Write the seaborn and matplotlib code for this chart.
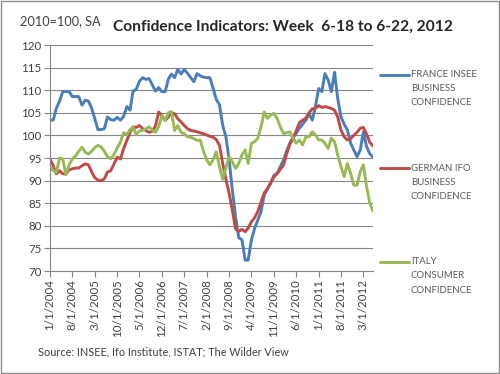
import matplotlib
matplotlib.use('Agg')
import matplotlib.pyplot as plt
import pandas as pd
import seaborn as sns

# monthly index values, 2010=100, SA (Jan 2004 .. Jun 2012)
start_month = '2004-01-01'
france = [103.4, 103.4, 106.0, 107.6, 109.7, 109.7, 109.7, 108.6, 108.6, 108.6,
          106.7, 107.8, 107.6, 106.0, 103.8, 101.3, 101.3, 101.5, 104.1, 103.5,
          103.4, 104.0, 103.4, 104.2, 106.4, 105.6, 109.8, 110.2, 112.0, 112.8,
          112.4, 112.6, 111.2, 109.8, 110.6, 109.7, 109.7, 112.5, 113.6, 112.8,
          114.6, 113.6, 114.6, 113.8, 112.8, 111.9, 113.7, 113.2, 112.9, 112.8,
          112.8, 110.5, 108.0, 106.8, 102.3, 99.7, 94.6, 88.0, 82.0, 77.4,
          76.9, 72.4, 72.4, 76.9, 79.4, 81.3, 83.1, 86.8, 88.3, 89.4,
          91.2, 91.6, 93.1, 94.6, 96.5, 98.3, 99.5, 100.5, 101.6, 102.5,
          103.4, 104.8, 103.4, 106.4, 110.4, 109.7, 113.7, 112.3, 109.7, 114.0,
          108.2, 104.1, 102.5, 101.2, 98.3, 96.8, 95.3, 96.8, 100.8, 97.5,
          96.0, 95.2]
germany = [94.8, 93.3, 91.5, 92.2, 91.5, 91.5, 92.4, 92.6, 92.8, 92.8,
           93.3, 93.7, 93.5, 91.9, 90.7, 90.1, 90.0, 90.4, 91.9, 92.2,
           93.7, 95.2, 94.8, 97.0, 98.9, 100.7, 101.9, 101.8, 102.2, 101.5,
           101.1, 100.7, 100.9, 102.2, 105.2, 104.4, 103.3, 104.1, 105.0, 104.8,
           103.7, 103.0, 102.2, 101.5, 101.1, 101.0, 100.8, 100.6, 100.4, 100.1,
           99.8, 99.6, 99.1, 97.8, 93.9, 90.3, 87.2, 83.5, 79.3, 78.8,
           79.2, 78.7, 79.5, 80.9, 81.8, 83.2, 85.2, 87.3, 88.2, 89.5,
           90.8, 91.5, 92.5, 93.5, 95.8, 98.0, 99.4, 101.0, 102.8, 103.4,
           103.8, 105.0, 105.9, 106.0, 106.6, 106.2, 106.4, 106.2, 106.0, 105.6,
           104.1, 101.2, 99.7, 99.0, 99.3, 100.0, 100.7, 101.6, 101.8, 100.3,
           98.5, 97.7]
italy = [93.0, 92.2, 91.8, 95.0, 94.8, 91.3, 93.5, 94.8, 95.5, 96.5,
         97.4, 96.3, 95.9, 96.5, 97.3, 97.8, 97.5, 96.5, 95.3, 94.8,
         95.8, 97.2, 98.5, 100.6, 100.2, 101.3, 101.8, 100.2, 101.0, 101.1,
         101.5, 101.9, 101.2, 100.7, 102.0, 104.4, 103.3, 105.0, 105.3, 101.1,
         102.2, 100.7, 100.4, 99.7, 99.6, 99.3, 98.9, 99.0, 96.5, 94.6,
         93.5, 94.6, 96.4, 93.1, 90.3, 92.8, 95.3, 94.2, 92.7, 93.8,
         95.7, 96.8, 93.8, 98.3, 98.6, 99.4, 101.9, 105.2, 103.8, 104.5,
         104.9, 103.8, 101.9, 100.4, 100.6, 100.8, 99.4, 98.3, 99.0, 97.9,
         99.7, 99.7, 100.8, 100.1, 99.0, 99.0, 98.3, 97.1, 99.4, 98.6,
         95.7, 93.1, 90.9, 93.8, 91.6, 89.0, 89.0, 92.0, 93.5, 88.7,
         85.0, 83.3]
series_labels = ['FRANCE INSEE\nBUSINESS\nCONFIDENCE',
                 'GERMAN IFO\nBUSINESS\nCONFIDENCE',
                 'ITALY\nCONSUMER\nCONFIDENCE']
tick_labels = ['1/1/2004', '8/1/2004', '3/1/2005', '10/1/2005', '5/1/2006',
               '12/1/2006', '7/1/2007', '2/1/2008', '9/1/2008', '4/1/2009',
               '11/1/2009', '6/1/2010', '1/1/2011', '8/1/2011', '3/1/2012']
y_ticks = [70, 75, 80, 85, 90, 95, 100, 105, 110, 115, 120]

sns.set_style('white')
plt.rcParams['font.family'] = ['Lato', 'DejaVu Sans']

dates = pd.date_range(start_month, periods=len(france), freq='MS')
df = pd.DataFrame({'date': dates, 'France': france, 'Germany': germany, 'Italy': italy})
long = df.melt(id_vars='date', var_name='series', value_name='value')
colors = {'France': '#4a7ebb', 'Germany': '#be4b48', 'Italy': '#98b954'}

fig = plt.figure(figsize=(5, 3.74), dpi=100)
ax = fig.add_axes([0.1, 0.2754, 0.646, 0.604])
sns.lineplot(data=long, x='date', y='value', hue='series', palette=colors,
             linewidth=2.1, legend=False, ax=ax)

ax.set_ylim(70, 120)
ax.set_yticks(y_ticks)
ax.set_xlim(dates[0], dates[-1])
ax.set_xticks(pd.to_datetime(tick_labels, format='%m/%d/%Y'))
ax.set_xticklabels(tick_labels, rotation=90)
ax.set_xlabel('')
ax.set_ylabel('')
ax.yaxis.grid(True, color='#868686', lw=0.8)
ax.xaxis.grid(False)
ax.set_axisbelow(True)
for s in ['top', 'right']:
    ax.spines[s].set_visible(False)
for s in ['left', 'bottom']:
    ax.spines[s].set_color('#868686')
    ax.spines[s].set_linewidth(0.8)
ax.tick_params(axis='both', bottom=True, left=True, length=4, width=0.8,
               color='#868686', labelsize=8.3, labelcolor='#404040', pad=2)

# legend: blank lines above so the key sits on the first text line
labels = ['\n\n' + lab for lab in series_labels]
leg = fig.legend(ax.lines[:3], labels, loc='center left',
                 bbox_to_anchor=(0.76, 1 - 168 / 374), frameon=False,
                 handlelength=3.0, handletextpad=0.2, labelspacing=2.88,
                 fontsize=6.9, labelcolor='#595959', borderpad=0, borderaxespad=0)
for t in leg.get_texts():
    t.set_linespacing(1.75)

fig.text(20 / 500, 1 - 21 / 374, '2010=100, SA', fontsize=9.2, color='#404040', va='center')
fig.text(283 / 500, 1 - 27 / 374, 'Confidence Indicators: Week  6-18 to 6-22, 2012',
         fontsize=11.2, weight='bold', ha='center', va='center')
fig.text(38 / 500, 1 - 352 / 374, 'Source: INSEE, Ifo Institute, ISTAT; The Wilder View',
         fontsize=7.8, color='#404040', va='center')

fig.patches.append(plt.Rectangle((0.002, 0.003), 0.995, 0.994, transform=fig.transFigure,
                                 fill=False, ec='#8c8c8c', lw=1))

fig.savefig('out.png', dpi=100)
